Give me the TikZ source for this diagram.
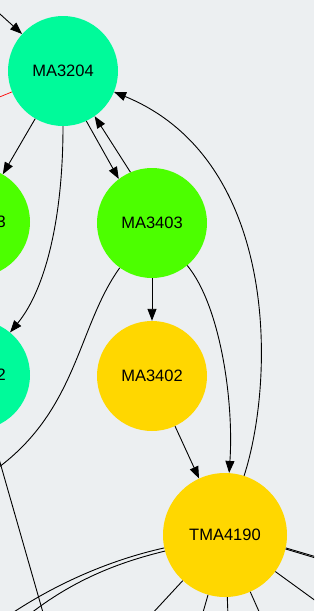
\documentclass[tikz,border=0pt]{standalone}
\usepackage{fontspec}
\setmainfont{Liberation Sans}
\usetikzlibrary{arrows.meta}
\definecolor{bg}{HTML}{ECEFF1}
\definecolor{sgreen}{HTML}{00FA9A}
\definecolor{cgreen}{HTML}{4CFF00}
\definecolor{goldc}{HTML}{FFD700}
\begin{document}
\begin{tikzpicture}[x=1pt,y=-1pt,
  vtx/.style={circle, draw=none, inner sep=0pt, minimum size=110pt, font=\fontsize{16.5}{18}\selectfont},
  edge/.style={draw=black, line width=0.9pt, -{Triangle[length=12pt,width=9pt]}},
  plain/.style={draw=black, line width=0.9pt},
  redline/.style={draw=red, line width=0.7pt}]
\fill[bg] (0,0) rectangle (314,611);
\useasboundingbox (0,0) rectangle (314,611);
\clip (0,0) rectangle (314,611);

\node[vtx, fill=sgreen] (MA3204) at (63,71) {MA3204};
\node[vtx, fill=cgreen] (L3) at (-25,222) {\phantom{MA340}3};
\node[vtx, fill=cgreen] (MA3403) at (152,223) {MA3403};
\node[vtx, fill=sgreen] (L2) at (-25,375) {\phantom{MA320}2};
\node[vtx, fill=goldc] (MA3402) at (152,376) {MA3402};
\node[vtx, fill=goldc, minimum size=124pt] (TMA4190) at (225,535) {TMA4190};

\coordinate (in1) at (-10,5);
\coordinate (red1) at (-20,105);
\coordinate (out1) at (-20,480);
\coordinate (out2) at (48,630);
\coordinate (out3) at (-5,625);
\coordinate (out4) at (20,622);
\coordinate (o5) at (150,616);
\coordinate (o6) at (202,616);
\coordinate (o7) at (228,616);
\coordinate (o8) at (261,616);
\coordinate (o9) at (320,604);
\coordinate (o10) at (320,558);
\coordinate (o11) at (320,559.3);

\draw[edge] (in1) -- (MA3204);
\draw[redline] (MA3204) -- (red1);
\draw[edge] (MA3204) -- (L3);
\draw[edge] (MA3204) .. controls (63,220) and (45,290) .. (L2);
\draw[edge] (MA3204.-65) -- (MA3403.127);
\draw[edge] (MA3403.113) -- (MA3204.-55);
\draw[edge] (TMA4190) .. controls (275,380) and (280,160) .. (MA3204);
\draw[edge] (MA3403) -- (MA3402);
\draw[edge] (MA3403) .. controls (220,305) and (234,400) .. (TMA4190);
\draw[edge] (MA3402) -- (TMA4190);
\draw[plain] (MA3403) .. controls (75,330) and (78,420) .. (out1);
\draw[plain] (L2) -- (out2);
\draw[plain] (TMA4190.-168) .. controls (110,560) and (50,585) .. (out3);
\draw[plain] (TMA4190.-165) .. controls (120,562) and (70,580) .. (out4);
\draw[plain] (TMA4190) -- (o5);
\draw[plain] (TMA4190) -- (o6);
\draw[plain] (TMA4190) -- (o7);
\draw[plain] (TMA4190) -- (o8);
\draw[plain] (TMA4190) -- (o9);
\draw[plain] (TMA4190.-12.6) -- (o10);
\draw[plain] (TMA4190.-13.6) -- (o11);
\end{tikzpicture}
\end{document}
